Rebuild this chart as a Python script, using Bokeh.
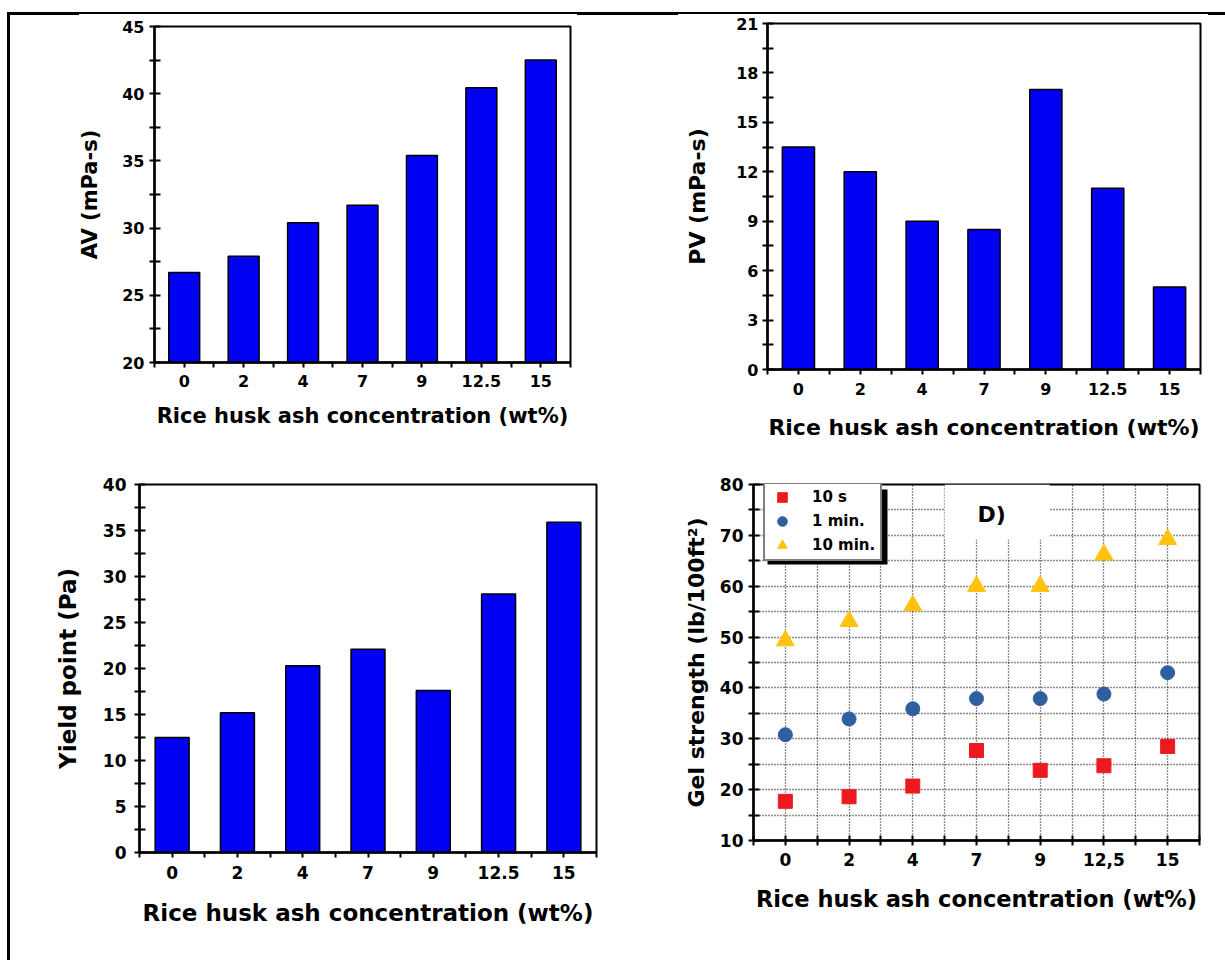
import numpy as np
from bokeh.plotting import figure
from bokeh.models import (Range1d, FixedTicker, Legend, LegendItem, Label,
                          BoxAnnotation, Div, Spacer)
from bokeh.layouts import column, row
from bokeh.embed import file_html
from bokeh.resources import INLINE

# ---------------- data ----------------
concentrations = ["0", "2", "4", "7", "9", "12.5", "15"]
concentrations_comma = ["0", "2", "4", "7", "9", "12,5", "15"]
av_values = [26.7, 27.9, 30.4, 31.7, 35.4, 40.45, 42.5]
pv_values = [13.5, 12.0, 9.0, 8.5, 17.0, 11.0, 5.0]
yp_values = [12.5, 15.2, 20.3, 22.1, 17.6, 28.1, 35.9]
gel_10s = [17.7, 18.6, 20.7, 27.7, 23.8, 24.7, 28.5]
gel_1min = [30.8, 33.9, 35.9, 37.9, 37.9, 38.8, 43.0]
gel_10min = [49.3, 53.1, 56.2, 60.0, 60.0, 66.2, 69.2]
av_ticks = [20, 25, 30, 35, 40, 45]
pv_ticks = [0, 3, 6, 9, 12, 15, 18, 21]
yp_ticks = [0, 5, 10, 15, 20, 25, 30, 35, 40]
gel_ticks = [10, 20, 30, 40, 50, 60, 70, 80]
legend_labels = ["10 s", "1 min.", "10 min."]
x_title = "Rice husk ash concentration (wt%)"

FONT = "DejaVu Sans"
BAR = "#0000F2"
n = len(concentrations)
centers = [i + 0.5 for i in range(n)]
bounds = [float(i) for i in range(n + 1)]


def make_fig(width, height, bl, br, bt, bb, ylo, yhi):
    p = figure(width=width, height=height, x_range=Range1d(0, n),
               y_range=Range1d(ylo, yhi), output_backend="svg",
               toolbar_location=None, min_border_left=bl, min_border_right=br,
               min_border_top=bt, min_border_bottom=bb)
    p.outline_line_color = "black"
    p.outline_line_width = 2
    p.outline_line_alpha = 1
    p.xgrid.visible = False
    p.ygrid.visible = False
    return p


def style(p, labels, yticks, yminor, ytitle, tick_px, xt_px, yt_px,
          x_std, xt_std, y_std, yt_std, x_in=0):
    xa = p.xaxis[0]
    ya = p.yaxis[0]
    xa.ticker = FixedTicker(ticks=centers, minor_ticks=bounds)
    xa.major_label_overrides = {c: l for c, l in zip(centers, labels)}
    ya.ticker = FixedTicker(ticks=yticks, minor_ticks=yminor)
    xa.axis_label = x_title
    ya.axis_label = ytitle
    for ax in (xa, ya):
        ax.axis_line_width = 2.5
        ax.axis_line_color = "black"
        ax.major_tick_line_width = 2
        ax.minor_tick_line_width = 2
        ax.major_tick_line_color = "black"
        ax.minor_tick_line_color = "black"
        ax.major_label_text_font = FONT
        ax.major_label_text_font_style = "bold"
        ax.major_label_text_color = "black"
        ax.major_label_text_font_size = f"{tick_px}px"
        ax.axis_label_text_font = FONT
        ax.axis_label_text_font_style = "bold"
        ax.axis_label_text_color = "black"
    xa.axis_label_text_font_size = f"{xt_px}px"
    ya.axis_label_text_font_size = f"{yt_px}px"
    xa.major_tick_in = x_in
    xa.major_tick_out = 5
    xa.minor_tick_in = x_in
    xa.minor_tick_out = 5
    ya.major_tick_in = 6
    ya.major_tick_out = 5
    ya.minor_tick_in = 6
    ya.minor_tick_out = 5
    xa.major_label_standoff = x_std
    xa.axis_label_standoff = xt_std
    ya.major_label_standoff = y_std
    ya.axis_label_standoff = yt_std


def half_steps(ticks):
    return [ticks[i] + (ticks[i + 1] - ticks[i]) / 2 for i in range(len(ticks) - 1)]


# ---------- Panel A : AV ----------
pA = make_fig(610, 445, 144, 50, 11, 98, av_ticks[0], av_ticks[-1])
pA.vbar(x=centers, top=av_values, bottom=av_ticks[0], width=0.52,
        fill_color=BAR, line_color="black", line_width=1.5)
style(pA, concentrations, av_ticks, half_steps(av_ticks), "AV (mPa-s)",
      16, 21, 21, 7, 14, 5, 17)

# ---------- Panel B : PV ----------
pB = make_fig(605, 445, 147, 25, 8, 91, pv_ticks[0], pv_ticks[-1])
pB.vbar(x=centers, top=pv_values, bottom=pv_ticks[0], width=0.52,
        fill_color=BAR, line_color="black", line_width=1.5)
style(pB, concentrations, pv_ticks, half_steps(pv_ticks), "PV (mPa-s)",
      16, 22, 22, 8, 17, 4, 23)

# ---------- Panel C : Yield point ----------
pC = make_fig(610, 500, 129, 24, 24, 108, yp_ticks[0], yp_ticks[-1])
pC.vbar(x=centers, top=yp_values, bottom=yp_ticks[0], width=0.52,
        fill_color=BAR, line_color="black", line_width=1.5)
style(pC, concentrations, yp_ticks, half_steps(yp_ticks), "Yield point (Pa)",
      17, 23, 23, 8, 18, 8, 19)

# ---------- Panel D : Gel strength ----------
pD = make_fig(605, 500, 133, 26, 24, 120, gel_ticks[0], gel_ticks[-1])
pD.xgrid.visible = True
pD.ygrid.visible = True
pD.xgrid.ticker = FixedTicker(ticks=sorted(centers + bounds))
pD.ygrid.ticker = FixedTicker(ticks=sorted(gel_ticks + half_steps(gel_ticks)))
for g in (pD.xgrid[0], pD.ygrid[0]):
    g.grid_line_color = "black"
    g.grid_line_dash = "1 2"
    g.grid_line_width = 1.3
    g.grid_line_alpha = 0.9
style(pD, concentrations_comma, gel_ticks, half_steps(gel_ticks),
      "Gel strength (lb/100ft\u00b2)", 17, 22.5, 22, 7, 17, 5, 8, x_in=5)

# white patch behind the "D)" tag (hides the dotted grid there)
pD.add_layout(BoxAnnotation(left=3.0, right=4.65, bottom=69.2, top=80,
                            fill_color="white", fill_alpha=1, line_color=None,
                            level="underlay"))

r1 = pD.scatter(centers, gel_10s, marker="square", size=14,
                fill_color="#EC1A1F", line_color="#EC1A1F")
r2 = pD.scatter(centers, gel_1min, marker="circle", size=14,
                fill_color="#2F5F9E", line_color="#2F5F9E")
r3 = pD.scatter(centers, gel_10min, marker="triangle", size=18,
                fill_color="#FFC20E", line_color="#FFC20E")

shadow = BoxAnnotation(left=14, right=134, bottom=276, top=351,
                       left_units="screen", right_units="screen",
                       bottom_units="screen", top_units="screen",
                       fill_color="black", fill_alpha=1, line_color=None)
pD.add_layout(shadow)
legend = Legend(items=[LegendItem(label=legend_labels[0], renderers=[r1]),
                       LegendItem(label=legend_labels[1], renderers=[r2]),
                       LegendItem(label=legend_labels[2], renderers=[r3])],
                location=(10, 279), margin=0, padding=2, spacing=0,
                glyph_width=30, glyph_height=24, label_height=24,
                label_width=66, label_standoff=15, border_line_color="black",
                border_line_width=2, background_fill_color="white",
                background_fill_alpha=1, label_text_font=FONT,
                label_text_font_style="bold", label_text_font_size="15px",
                label_text_color="black")
pD.add_layout(legend)
pD.add_layout(Label(x=224, y=314, x_units="screen", y_units="screen",
                    text="D)", text_font=FONT, text_font_style="bold",
                    text_font_size="22px", text_color="black"))

# ---------- page frame ----------
def seg(w, h):
    return Div(width=w, height=h, margin=0, styles={"background-color": "black"})

top_line = row(Spacer(width=7, height=3),
               seg(72, 3), seg(498, 2), seg(101, 3), seg(530, 2), seg(17, 3))
# each figure in its own column so that frames are not aligned across a row
grid = column(row(column(pA), column(pB)), row(column(pC), column(pD)))
body = row(Spacer(width=7, height=945), seg(3, 945), grid)
page = column(Spacer(width=1225, height=12), top_line, body)

open("out.html", "w").write(file_html(page, INLINE))
